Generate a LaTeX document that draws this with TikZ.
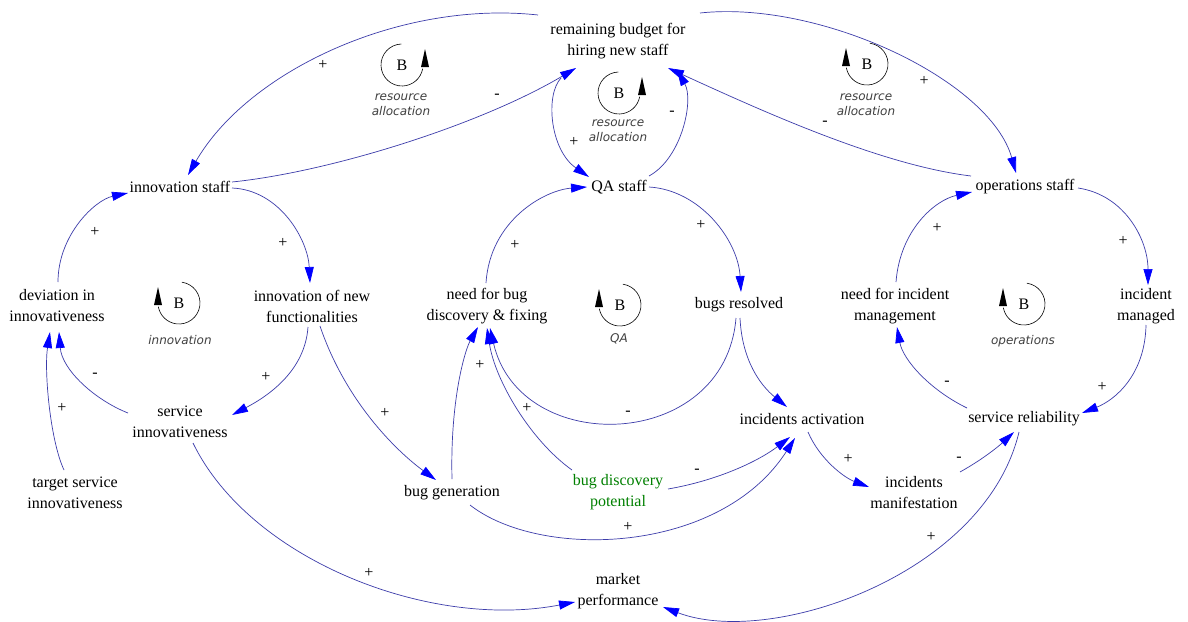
\documentclass[tikz,border=0pt]{standalone}
\usepackage{fontspec}
\setmainfont{Liberation Serif}
\newfontfamily\loopsansfont{DejaVu Sans}
\usetikzlibrary{arrows.meta}
\newcommand\myvarfont{\fontsize{16}{21}\selectfont}
\newcommand\mylabfont{\loopsansfont\itshape\fontsize{12}{15}\selectfont}
\definecolor{linkblue}{RGB}{60,60,170}
\definecolor{tipblue}{RGB}{0,0,255}
\definecolor{greentext}{RGB}{0,128,0}
\definecolor{loopgray}{RGB}{64,64,64}
\tikzset{
  var/.style={font=\myvarfont, align=center, inner sep=0pt},
  link/.style={draw=linkblue, line width=0.7pt, -{Triangle[length=16pt,width=9pt,color=tipblue]}},
  sign/.style={font=\myvarfont, inner sep=0pt},
  looplab/.style={font=\mylabfont, text=loopgray, align=center, inner sep=0pt},
  loopline/.style={draw=black, line width=0.6pt},
  btext/.style={font=\myvarfont, inner sep=0pt},
  loopL/.pic={
    \draw[loopline] (82:21) arc[start angle=82, end angle=-170, radius=21];
    \fill (-25,-2) -- (-17,-2) -- (-21,16) -- cycle;
    \node[btext] (-b) at (0,0) {B};
  },
  loopR/.pic={
    \draw[loopline] (92:21) arc[start angle=92, end angle=350, radius=21];
    \fill (19,-2) -- (27,-2) -- (23,16) -- cycle;
    \node[btext] (-b) at (0,0) {B};
  }
}
\begin{document}
\begin{tikzpicture}[x=1pt,y=1pt]
\fill[white] (0,0) rectangle (1188,-621);
\useasboundingbox (0,0) rectangle (1188,-621);

% variables
\node[var] (bud) at (618,-41) {remaining budget for\\hiring new staff};
\node[var] (inst) at (180,-187) {innovation staff};
\node[var] (qa) at (619,-187) {QA staff};
\node[var] (ops) at (1025,-187) {operations staff};
\node[var] (dev) at (57,-306) {deviation in\\innovativeness};
\node[var] (inew) at (312,-306) {innovation of new\\functionalities};
\node[var] (need) at (487,-306) {need for bug\\discovery \& fixing};
\node[var] (bres) at (739,-305) {bugs resolved};
\node[var] (ninc) at (895,-306) {need for incident\\management};
\node[var] (imgd) at (1146,-306) {incident\\managed};
\node[var] (sinn) at (180,-422) {service\\innovativeness};
\node[var] (tsi) at (75,-493) {target service\\innovativeness};
\node[var] (bgen) at (452,-493) {bug generation};
\node[var,text=greentext] (bdp) at (618,-492) {bug discovery\\potential};
\node[var] (iact) at (802,-419) {incidents activation};
\node[var] (srel) at (1024,-419) {service reliability};
\node[var] (iman) at (914,-493) {incidents\\manifestation};
\node[var] (mkt) at (618,-591) {market\\performance};

% loop markers
\pic (L1) at (402,-65) {loopR};
\node[looplab] (L1lab) at (401,-105) {resource\\allocation};
\pic (L2) at (619,-93) {loopR};
\node[looplab] (L2lab) at (618,-131) {resource\\allocation};
\pic (L3) at (867,-64) {loopL};
\node[looplab] (L3lab) at (866,-105) {resource\\allocation};
\pic (L4) at (179,-303) {loopL};
\node[looplab] (L4lab) at (180,-340) {innovation};
\pic (L5) at (620,-305) {loopL};
\node[looplab] (L5lab) at (619,-339) {QA};
\pic (L6) at (1024,-304) {loopL};
\node[looplab] (L6lab) at (1023,-341) {operations};

% links
\draw[link] ([shift={(-80,26)}]bud.center) .. controls (400,0) and (248,-71) .. ([shift={(8,12)}]inst.center);
\draw[link] ([shift={(52,5)}]inst.center) .. controls (330,-172) and (480,-125) .. ([shift={(-42,-27)}]bud.center);
\draw[link] ([shift={(-57,-37)}]bud.center) .. controls (545,-95) and (550,-150) .. ([shift={(-30,10)}]qa.center);
\draw[link] ([shift={(30,11)}]qa.center) .. controls (682,-158) and (694,-100) .. ([shift={(59,-29)}]bud.center);
\draw[link] ([shift={(82,28)}]bud.center) .. controls (820,0) and (990,-80) .. ([shift={(-9,14)}]ops.center);
\draw[link] ([shift={(-54,11)}]ops.center) .. controls (880,-165) and (760,-110) .. ([shift={(50,-27)}]bud.center);
\draw[link] ([shift={(52,-1)}]inst.center) .. controls (280,-190) and (308,-240) .. ([shift={(-2,23)}]inew.center);
\draw[link] ([shift={(1,24)}]dev.center) .. controls (58,-235) and (95,-200) .. ([shift={(-52,-6)}]inst.center);
\draw[link] ([shift={(-4,-21)}]inew.center) .. controls (305,-370) and (270,-395) .. ([shift={(52,7)}]sinn.center);
\draw[link] ([shift={(-52,9)}]sinn.center) .. controls (95,-400) and (62,-370) .. ([shift={(2,-26)}]dev.center);
\draw[link] ([shift={(-11,23)}]tsi.center) .. controls (50,-440) and (44,-370) .. ([shift={(-7,-26)}]dev.center);
\draw[link] ([shift={(8,-20)}]inew.center) .. controls (345,-400) and (395,-450) .. ([shift={(-16,13)}]bgen.center);
\draw[link] ([shift={(13,-21)}]sinn.center) .. controls (250,-560) and (430,-630) .. ([shift={(-43,-11)}]mkt.center);
\draw[link] ([shift={(0,14)}]bgen.center) .. controls (450,-400) and (465,-350) .. ([shift={(-9,-21)}]need.center);
\draw[link] ([shift={(-46,22)}]bdp.center) .. controls (530,-440) and (495,-380) .. ([shift={(0,-22)}]need.center);
\draw[link] ([shift={(-3,-13)}]bres.center) .. controls (725,-452) and (520,-458) .. ([shift={(3,-22)}]need.center);
\draw[link] ([shift={(30,0)}]qa.center) .. controls (700,-190) and (738,-240) .. ([shift={(2,13)}]bres.center);
\draw[link] ([shift={(-1,23)}]need.center) .. controls (490,-220) and (545,-190) .. ([shift={(-32,0)}]qa.center);
\draw[link] ([shift={(1,-13)}]bres.center) .. controls (742,-360) and (760,-385) .. ([shift={(-15,12)}]iact.center);
\draw[link] ([shift={(50,3)}]bdp.center) .. controls (720,-480) and (760,-460) .. ([shift={(-12,-18)}]iact.center);
\draw[link] ([shift={(18,-12)}]bgen.center) .. controls (540,-560) and (720,-555) .. ([shift={(-7,-19)}]iact.center);
\draw[link] ([shift={(6,-13)}]iact.center) .. controls (820,-460) and (845,-478) .. ([shift={(-45,6)}]iman.center);
\draw[link] ([shift={(46,21)}]iman.center) .. controls (985,-458) and (1000,-445) .. ([shift={(-10,-13)}]srel.center);
\draw[link] ([shift={(-57,11)}]srel.center) .. controls (930,-390) and (903,-360) .. ([shift={(2,-21)}]ninc.center);
\draw[link] ([shift={(0,-19)}]imgd.center) .. controls (1145,-375) and (1115,-400) .. ([shift={(58,6)}]srel.center);
\draw[link] ([shift={(1,24)}]ninc.center) .. controls (900,-230) and (935,-200) .. ([shift={(-53,-5)}]ops.center);
\draw[link] ([shift={(53,-1)}]ops.center) .. controls (1125,-195) and (1148,-240) .. ([shift={(2,21)}]imgd.center);
\draw[link] ([shift={(-5,-13)}]srel.center) .. controls (985,-575) and (770,-648) .. ([shift={(45,-16)}]mkt.center);

% polarity signs
\node[sign] (s1) at (323,-65) {+};
\node[sign] (s2) at (497,-96) {-};
\node[sign] (s3) at (574,-142) {+};
\node[sign] (s4) at (672,-113) {-};
\node[sign] (s5) at (924,-81) {+};
\node[sign] (s6) at (825,-123) {-};
\node[sign] (s7) at (283,-243) {+};
\node[sign] (s8) at (95,-232) {+};
\node[sign] (s9) at (266,-377) {+};
\node[sign] (s10) at (95,-375) {-};
\node[sign] (s11) at (62,-408) {+};
\node[sign] (s12) at (385,-413) {+};
\node[sign] (s13) at (369,-573) {+};
\node[sign] (s14) at (480,-365) {+};
\node[sign] (s15) at (527,-408) {+};
\node[sign] (s16) at (628,-413) {-};
\node[sign] (s17) at (701,-225) {+};
\node[sign] (s18) at (515,-245) {+};
\node[sign] (s20) at (697,-471) {-};
\node[sign] (s21) at (628,-527) {+};
\node[sign] (s22) at (848,-459) {+};
\node[sign] (s23) at (959,-459) {-};
\node[sign] (s24) at (947,-383) {-};
\node[sign] (s25) at (1102,-387) {+};
\node[sign] (s26) at (937,-228) {+};
\node[sign] (s27) at (1123,-241) {+};
\node[sign] (s28) at (931,-537) {+};
\end{tikzpicture}
\end{document}
